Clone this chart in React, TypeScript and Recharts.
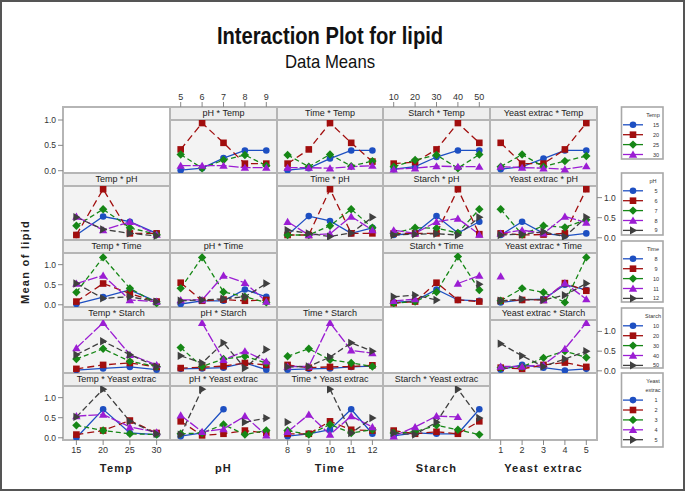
import React from "react";
import { LineChart, Line, XAxis, YAxis } from "recharts";

const factorNames = ["Temp", "pH", "Time", "Starch", "Yeast extrac"];
const tempLevels = [15, 20, 25, 30];
const phLevels = [5, 6, 7, 8, 9];
const timeLevels = [8, 9, 10, 11, 12];
const starchLevels = [10, 20, 30, 40, 50];
const yeastLevels = [1, 2, 3, 4, 5];
const levels = [tempLevels, phLevels, timeLevels, starchLevels, yeastLevels];
const yTicks = [0, 0.5, 1.0];

// mean of lipid, "<x factor>By<legend factor>": one row per legend level
const phByTemp = [
  [0.01, 0.05, 0.25, 0.4, 0.4],
  [0.42, 0.94, 0.55, 0.14, 0.14],
  [0.32, 0.05, 0.21, 0.31, 0.1],
  [0.1, 0.1, 0.1, 0.06, 0.06],
];
const timeByTemp = [
  [0.01, 0.05, 0.24, 0.4, 0.4],
  [0.14, 0.42, 0.94, 0.55, 0.18],
  [0.31, 0.08, 0.32, 0.09, 0.19],
  [0.06, 0.06, 0.05, 0.08, 0.1],
];
const starchByTemp = [
  [0.03, 0.08, 0.27, 0.4, 0.4],
  [0.14, 0.17, 0.42, 0.94, 0.55],
  [0.08, 0.21, 0.31, 0.05, 0.32],
  [0.03, 0.05, 0.09, 0.08, 0.08],
];
const yeastByTemp = [
  [0.03, 0.08, 0.24, 0.4, 0.4],
  [0.55, 0.14, 0.14, 0.42, 0.94],
  [0.08, 0.32, 0.08, 0.19, 0.29],
  [0.08, 0.06, 0.05, 0.03, 0.09],
];

const tempByPh = [
  [0.07, 0.53, 0.4, 0.11],
  [0.07, 1.21, 0.11, 0.11],
  [0.3, 0.71, 0.25, 0.08],
  [0.53, 0.19, 0.4, 0.08],
  [0.51, 0.21, 0.11, 0.05],
];
const timeByPh = [
  [0.07, 0.54, 0.42, 0.11, 0.25],
  [0.07, 0.07, 1.21, 0.11, 0.11],
  [0.07, 0.07, 0.3, 0.71, 0.25],
  [0.4, 0.07, 0.1, 0.53, 0.19],
  [0.19, 0.11, 0.03, 0.12, 0.51],
];
const starchByPh = [
  [0.07, 0.11, 0.54, 0.12, 0.4],
  [0.11, 0.11, 0.11, 1.21, 0.09],
  [0.11, 0.25, 0.24, 0.12, 0.71],
  [0.19, 0.11, 0.4, 0.48, 0.08],
  [0.07, 0.09, 0.1, 0.07, 0.51],
];
const yeastByPh = [
  [0.07, 0.4, 0.11, 0.05, 0.11],
  [0.11, 0.07, 0.08, 0.11, 1.21],
  [0.71, 0.08, 0.3, 0.26, 0.45],
  [0.11, 0.19, 0.11, 0.53, 0.38],
  [0.07, 0.09, 0.15, 0.03, 0.51],
];

const tempByTime = [
  [0.02, 0.19, 0.37, 0.08],
  [0.08, 0.53, 0.28, 0.08],
  [0.31, 1.18, 0.41, 0.04],
  [0.53, 0.73, 0.12, 0.08],
  [0.53, 0.16, 0.2, 0.08],
];
const phByTime = [
  [0.02, 0.1, 0.1, 0.38, 0.2],
  [0.55, 0.1, 0.13, 0.1, 0.12],
  [0.41, 1.18, 0.32, 0.2, 0.06],
  [0.12, 0.12, 0.73, 0.55, 0.08],
  [0.1, 0.12, 0.15, 0.2, 0.53],
];
const starchByTime = [
  [0.06, 0.1, 0.38, 0.12, 0.1],
  [0.04, 0.08, 0.55, 0.12, 0.08],
  [0.04, 0.08, 0.32, 1.2, 0.37],
  [0.1, 0.14, null, 0.53, 0.73],
  [0.2, 0.24, 0.12, null, 0.51],
];
const yeastByTime = [
  [0.06, 0.12, 0.14, 0.5, 0.37],
  [0.1, 0.12, 0.12, 0.54, 0.35],
  [0.1, 0.41, 0.31, 0.06, 1.18],
  [0.71, null, 0.12, 0.54, 0.14],
  [0.1, 0.14, 0.12, 0.24, 0.53],
];

const tempByStarch = [
  [0.02, 0.06, 0.1, 0.03],
  [0.05, 0.15, 0.2, 0.1],
  [0.3, 0.56, 0.24, 0.11],
  [0.58, 1.22, 0.41, 0.15],
  [0.41, 0.75, 0.41, 0.11],
];
const phByStarch = [
  [0.05, 0.06, 0.08, 0.2, 0.03],
  [0.07, 0.09, 0.12, 0.2, 0.15],
  [0.59, 0.11, 0.3, 0.37, 0.2],
  [null, 1.22, 0.28, 0.5, 0.24],
  [0.38, 0.2, 0.71, 0.07, 0.54],
];
const timeByStarch = [
  [0.03, 0.05, 0.06, 0.1, 0.12],
  [0.15, 0.08, 0.1, 0.11, 0.14],
  [0.37, 0.56, 0.28, 0.2, 0.11],
  [0.11, 0.11, 1.22, 0.52, 0.45],
  [0.1, 0.11, 0.35, 0.71, 0.5],
];
const yeastByStarch = [
  [0.03, 0.15, 0.08, 0.01, 0.05],
  [0.08, 0.05, 0.15, 0.21, 0.1],
  [0.08, 0.1, 0.33, 0.5, 0.34],
  [0.11, 0.11, 0.15, 0.56, 1.22],
  [0.69, 0.38, 0.11, 0.3, 0.5],
];

const tempByYeast = [
  [0.0, 0.71, 0.12, 0.08],
  [0.08, 0.18, 0.43, 0.12],
  [0.31, 0.18, 0.1, 0.08],
  [0.54, 0.58, 0.27, 0.14],
  [0.52, 1.21, 0.41, 0.1],
];
const phByYeast = [
  [0.04, 0.12, 0.71, null, null],
  [0.41, 0.06, 0.1, 0.18, 0.12],
  [0.1, 0.12, 0.33, 0.08, 0.18],
  [0.56, 0.15, 0.22, 0.54, 0.06],
  [0.08, 1.21, null, 0.39, 0.49],
];
const timeByYeast = [
  [0.04, 0.1, 0.2, 0.71, 0.1],
  [0.1, 0.1, 0.41, 0.2, 0.18],
  [0.18, 0.08, 0.33, 0.12, 0.2],
  [0.15, 0.58, 0.08, 0.54, 0.27],
  [0.39, null, 1.21, 0.12, 0.49],
];
const starchByYeast = [
  [0.05, 0.12, 0.1, 0.1, 0.71],
  [0.18, 0.1, 0.15, 0.1, 0.41],
  [0.12, 0.15, 0.31, 0.2, 0.08],
  [0.04, 0.27, 0.54, 0.52, null],
  [0.12, 0.08, 0.39, 1.21, 0.49],
];

// row = legend factor, column = x factor
const means: ((number | null)[][] | null)[][] = [
  [null, phByTemp, timeByTemp, starchByTemp, yeastByTemp],
  [tempByPh, null, timeByPh, starchByPh, yeastByPh],
  [tempByTime, phByTime, null, starchByTime, yeastByTime],
  [tempByStarch, phByStarch, timeByStarch, null, yeastByStarch],
  [tempByYeast, phByYeast, timeByYeast, starchByYeast, null],
];

const COLORS = ["#1d4fc2", "#a10e0e", "#168716", "#9b1dd3", "#3f3f3f"];
const DASH = [undefined, "7 4", "5 3", "10 2", "6 3"];

const COL_X = [63, 170, 277, 383, 490, 597];
const ROW_Y = [107, 173, 240, 307, 373, 440];
const HEAD = 13;
const LINE = "#b5b5b5";
const FONT = "'Liberation Sans', Arial, sans-serif";

const yDomain = (r: number) => (r === 0 ? [-0.045, 1.0] : [-0.055, 1.29]);

function Marker({ k, cx, cy }: { k: number; cx: number; cy: number }) {
  const c = COLORS[k];
  if (k === 0) return <circle cx={cx} cy={cy} r={3.3} fill={c} />;
  if (k === 1) return <rect x={cx - 3.3} y={cy - 3.3} width={6.6} height={6.6} fill={c} />;
  if (k === 2)
    return <polygon points={`${cx},${cy - 4.2} ${cx + 4.2},${cy} ${cx},${cy + 4.2} ${cx - 4.2},${cy}`} fill={c} />;
  if (k === 3)
    return <polygon points={`${cx},${cy - 4} ${cx + 4.2},${cy + 3.2} ${cx - 4.2},${cy + 3.2}`} fill={c} />;
  return <polygon points={`${cx - 3},${cy - 4.2} ${cx + 4.2},${cy} ${cx - 3},${cy + 4.2}`} fill={c} />;
}

function Panel({ r, c }: { r: number; c: number }) {
  const series = means[r][c] as (number | null)[][];
  const xs = levels[c];
  const data = xs.map((_, i) => {
    const row: Record<string, number | null> = { i };
    series.forEach((s, k) => (row[`s${k}`] = s[i]));
    return row;
  });
  const top = ROW_Y[r] + HEAD;
  const w = COL_X[c + 1] - COL_X[c];
  const h = ROW_Y[r + 1] - top;
  return (
    <div style={{ position: "absolute", left: COL_X[c], top }}>
      <LineChart width={w} height={h} data={data} margin={{ top: 0, right: 0, bottom: 0, left: 0 }}>
        <XAxis type="number" dataKey="i" domain={[-0.5, xs.length - 0.5]} hide />
        <YAxis type="number" domain={yDomain(r)} allowDataOverflow hide />
        {series.map((_, k) => (
          <Line
            key={k}
            dataKey={`s${k}`}
            stroke={COLORS[k]}
            strokeWidth={1.3}
            strokeDasharray={DASH[k]}
            activeDot={false}
            isAnimationActive={false}
            dot={(p: any) =>
              p.value == null || p.cy == null ? (
                <g key={`d${p.index}`} />
              ) : (
                <g key={`d${p.index}`}>
                  <Marker k={k} cx={p.cx} cy={p.cy} />
                </g>
              )
            }
          />
        ))}
      </LineChart>
    </div>
  );
}

const tickStyle = { fontSize: 9, fill: "#333", fontFamily: FONT };

function YAxisChart({ r, side }: { r: number; side: "left" | "right" }) {
  const top = ROW_Y[r] + HEAD;
  const h = ROW_Y[r + 1] - top;
  const left = side === "left" ? COL_X[0] - 45 : COL_X[5] - 1;
  return (
    <div style={{ position: "absolute", left, top: top - 6 }}>
      <LineChart width={46} height={h + 12} data={[{ i: 0 }, { i: 1 }]} margin={{ top: 6, right: 0, bottom: 6, left: 0 }}>
        <XAxis type="number" dataKey="i" domain={[0, 1]} hide />
        <YAxis
          type="number"
          orientation={side}
          width={45}
          domain={yDomain(r)}
          allowDataOverflow
          ticks={yTicks}
          interval={0}
          tickFormatter={(v: number) => v.toFixed(1)}
          axisLine={false}
          tickLine={{ stroke: "#888" }}
          tickSize={5}
          tickMargin={2}
          tick={{ ...tickStyle, fontSize: 8.5 }}
        />
      </LineChart>
    </div>
  );
}

function XAxisChart({ c, side }: { c: number; side: "top" | "bottom" }) {
  const xs = levels[c];
  const w = COL_X[c + 1] - COL_X[c];
  const top = side === "top" ? ROW_Y[0] - 20 : ROW_Y[5] - 1;
  return (
    <div style={{ position: "absolute", left: COL_X[c], top }}>
      <LineChart width={w} height={21} data={xs.map((_, i) => ({ i }))} margin={{ top: 0, right: 0, bottom: 0, left: 0 }}>
        <XAxis
          type="number"
          dataKey="i"
          orientation={side}
          height={20}
          domain={[-0.5, xs.length - 0.5]}
          ticks={xs.map((_, i) => i)}
          tickFormatter={(i: number) => String(xs[i])}
          axisLine={false}
          tickLine={{ stroke: "#888" }}
          tickSize={5}
          tickMargin={2}
          tick={tickStyle}
          interval={0}
        />
        <YAxis type="number" domain={[0, 1]} hide />
      </LineChart>
    </div>
  );
}

const LEGENDS = [
  { top: 107, bottom: 159, title: ["Temp"] },
  { top: 173, bottom: 235, title: ["pH"] },
  { top: 241, bottom: 302, title: ["Time"] },
  { top: 308, bottom: 368, title: ["Starch"] },
  { top: 373, bottom: 447, title: ["Yeast", "extrac"] },
];

function Legends() {
  return (
    <svg width={685} height={492} style={{ position: "absolute", left: 0, top: 0 }}>
      {LEGENDS.map((lg, f) => {
        const titleY = lg.top + 8;
        const firstY = titleY + (lg.title.length - 1) * 9.3 + 9.8;
        return (
          <g key={f}>
            <rect x={621.5} y={lg.top} width={41.5} height={lg.bottom - lg.top} fill="#fff" stroke="#a8a8a8" strokeWidth={1.6} />
            {lg.title.map((t, j) => (
              <text key={j} x={653} y={titleY + j * 9.3 + 2} fontSize={5.5} fill="#333" textAnchor="middle" fontFamily={FONT}>
                {t}
              </text>
            ))}
            {levels[f].map((lv, k) => {
              const y = firstY + k * 9.9;
              return (
                <g key={k}>
                  <line x1={623} x2={643} y1={y} y2={y} stroke={COLORS[k]} strokeWidth={1.3} />
                  <Marker k={k} cx={633} cy={y} />
                  <text x={656} y={y + 2} fontSize={5.5} fill="#333" textAnchor="middle" fontFamily={FONT}>
                    {lv}
                  </text>
                </g>
              );
            })}
          </g>
        );
      })}
    </svg>
  );
}

export default function App() {
  const cells: React.ReactNode[] = [];
  for (let r = 0; r < 5; r++) {
    for (let c = 0; c < 5; c++) {
      const x = COL_X[c];
      const y = ROW_Y[r];
      const w = COL_X[c + 1] - x;
      const h = ROW_Y[r + 1] - y;
      const diag = r === c;
      cells.push(
        <div key={`bg${r}${c}`} style={{ position: "absolute", left: x, top: y, width: w, height: h, background: diag ? "#fff" : "#f3f3f3" }} />
      );
      if (!diag) {
        cells.push(
          <div
            key={`hd${r}${c}`}
            style={{
              position: "absolute",
              left: x,
              top: y,
              width: w,
              height: HEAD - 1,
              background: "#eeeeee",
              borderBottom: `2px solid ${LINE}`,
              boxSizing: "content-box",
              fontSize: 9,
              lineHeight: `${HEAD}px`,
              textAlign: "center",
              color: "#222",
              fontFamily: FONT,
              whiteSpace: "nowrap",
            }}
          >
            {`${factorNames[c]} * ${factorNames[r]}`}
          </div>
        );
      }
      cells.push(
        <div
          key={`bd${r}${c}`}
          style={{ position: "absolute", left: x - 1, top: y - 1, width: w + 2, height: h + 2, border: `2px solid ${LINE}`, boxSizing: "border-box" }}
        />
      );
    }
  }

  return (
    <div style={{ position: "absolute", left: 0, top: 0, width: 685, height: 492, background: "#fff", fontFamily: FONT }}>
      <div style={{ position: "absolute", left: 0, top: 0, width: 685, height: 491, border: "2px solid #555", boxSizing: "border-box" }} />
      <div
        style={{
          position: "absolute",
          left: 0,
          width: 660,
          top: 22,
          textAlign: "center",
          fontWeight: "bold",
          fontSize: 24,
          color: "#111",
          transform: "scaleX(0.84)",
        }}
      >
        Interaction Plot for lipid
      </div>
      <div
        style={{
          position: "absolute",
          left: 0,
          width: 660,
          top: 51,
          textAlign: "center",
          fontSize: 19,
          color: "#111",
          transform: "scaleX(0.88)",
        }}
      >
        Data Means
      </div>
      {cells}
      {[0, 1, 2, 3, 4].map((r) =>
        [0, 1, 2, 3, 4].filter((c) => c !== r).map((c) => <Panel key={`p${r}${c}`} r={r} c={c} />)
      )}
      <YAxisChart r={0} side="left" />
      <YAxisChart r={2} side="left" />
      <YAxisChart r={4} side="left" />
      <YAxisChart r={1} side="right" />
      <YAxisChart r={3} side="right" />
      <XAxisChart c={1} side="top" />
      <XAxisChart c={3} side="top" />
      <XAxisChart c={0} side="bottom" />
      <XAxisChart c={2} side="bottom" />
      <XAxisChart c={4} side="bottom" />
      {factorNames.map((n, c) => (
        <div
          key={n}
          style={{
            position: "absolute",
            left: COL_X[c],
            width: COL_X[c + 1] - COL_X[c],
            top: 462,
            textAlign: "center",
            fontSize: 11,
            fontWeight: "bold",
            letterSpacing: 1.2,
            color: "#222",
          }}
        >
          {n}
        </div>
      ))}
      <div
        style={{
          position: "absolute",
          left: 25,
          top: 262,
          transform: "translate(-50%, -50%) rotate(-90deg)",
          fontSize: 11,
          fontWeight: "bold",
          letterSpacing: 1.3,
          color: "#222",
          whiteSpace: "nowrap",
        }}
      >
        Mean of lipid
      </div>
      <Legends />
    </div>
  );
}
